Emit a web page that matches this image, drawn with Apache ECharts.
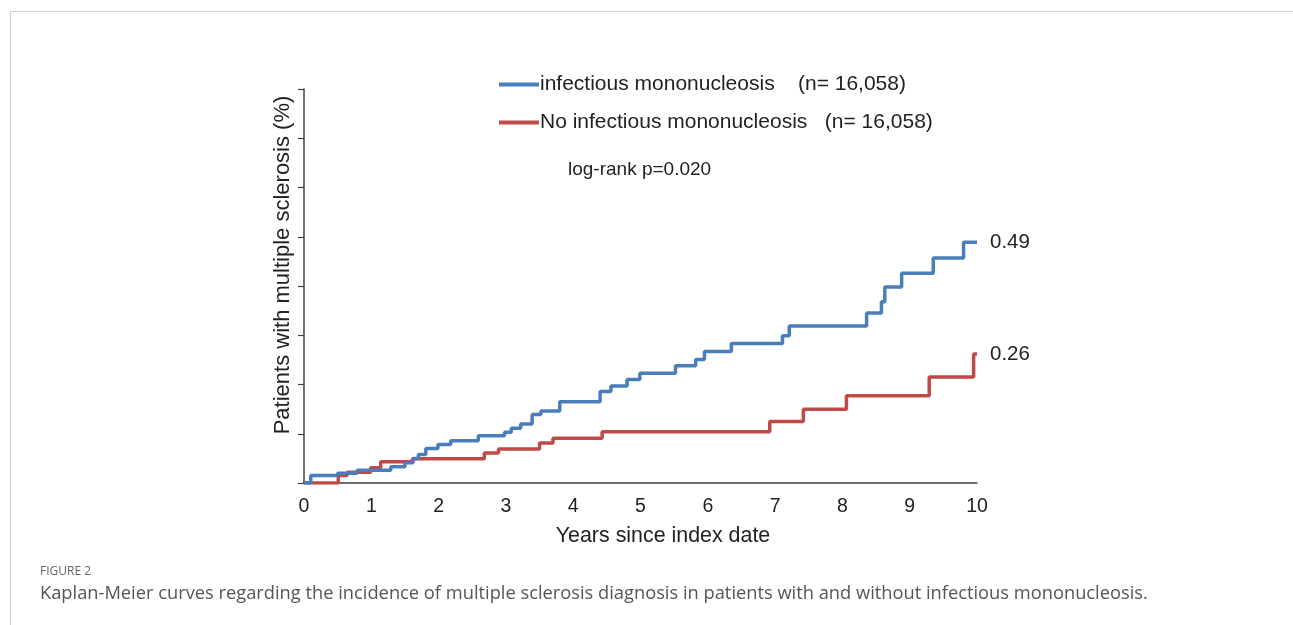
<!DOCTYPE html>
<html>
<head>
<meta charset="utf-8">
<script src="https://cdn.jsdelivr.net/npm/echarts@6/dist/echarts.min.js"></script>
<style>
html,body{margin:0;padding:0;background:#fff;}
#chart{width:1293px;height:625px;}
</style>
</head>
<body>
<div id="chart"></div>
<script>
// ---- data ----
var xTickLabels = ['0','1','2','3','4','5','6','7','8','9','10'];
var imTimes  = [0, 0.10, 0.50, 0.79, 1.29, 1.50, 1.62, 1.70, 1.81, 1.99, 2.18, 2.59, 2.98, 3.08, 3.22, 3.39, 3.52, 3.80, 4.40, 4.56, 4.80, 4.99, 5.52, 5.82, 5.95, 6.35, 7.11, 7.21, 8.36, 8.58, 8.63, 8.88, 9.35, 9.80, 10.0];
var imValues = [0, 0.015, 0.020, 0.026, 0.033, 0.041, 0.050, 0.058, 0.070, 0.078, 0.086, 0.096, 0.103, 0.111, 0.120, 0.139, 0.146, 0.165, 0.186, 0.197, 0.210, 0.223, 0.238, 0.251, 0.267, 0.283, 0.299, 0.319, 0.345, 0.368, 0.398, 0.426, 0.457, 0.489, 0.489];
var noTimes  = [0, 0.51, 0.64, 0.99, 1.14, 1.61, 2.68, 2.89, 3.50, 3.70, 4.43, 6.92, 7.42, 8.06, 9.29, 9.95, 10.0];
var noValues = [0, 0.015, 0.022, 0.031, 0.043, 0.049, 0.061, 0.069, 0.081, 0.091, 0.104, 0.125, 0.150, 0.177, 0.215, 0.262, 0.262];
var seriesNames = ['infectious mononucleosis', 'No infectious mononucleosis'];
var nLabels = ['(n= 16,058)', '(n= 16,058)'];
var pText = 'log-rank p=0.020';
var yTitle = 'Patients with multiple sclerosis (%)';
var xTitle = 'Years since index date';
var figLabel = 'FIGURE 2';
var caption = 'Kaplan-Meier curves regarding the incidence of multiple sclerosis diagnosis in patients with and without infectious mononucleosis.';

function pairs(t, v){ return t.map(function(x,i){ return [x, v[i]]; }); }

var FONT = 'Liberation Sans, Arial, sans-serif';
var BLUE = '#4a7ebb', RED = '#be4b48';
var chart = echarts.init(document.getElementById('chart'), null, {renderer:'canvas'});
var option = {
  backgroundColor: '#fff',
  animation: false,
  grid: {left: 304, right: 316, top: 89, bottom: 142, containLabel: false},
  legend: {
    orient: 'vertical', left: 494, top: 69,
    itemWidth: 40, itemHeight: 4, itemGap: 17,
    textStyle: {fontFamily: FONT, fontSize: 21, color: '#222', padding: [0,0,0,-4]},
    formatter: function(name){ var i = seriesNames.indexOf(name); return name + (i === 0 ? '    ' : '   ') + nLabels[i]; },
    data: [
      {name: seriesNames[0], icon: 'rect', itemStyle: {color: BLUE}},
      {name: seriesNames[1], icon: 'rect', itemStyle: {color: RED}}
    ]
  },
  xAxis: {
    type: 'value', min: 0, max: 10, interval: 1,
    axisLine: {show: true, lineStyle: {color: '#404040', width: 1.5}},
    axisTick: {show: false},
    splitLine: {show: false},
    axisLabel: {fontFamily: FONT, fontSize: 19.5, color: '#222', margin: 14,
      formatter: function(v){ return xTickLabels[Math.round(v)]; }}
  },
  yAxis: {
    type: 'value', min: 0, max: 0.8, interval: 0.1,
    axisLine: {show: true, lineStyle: {color: '#404040', width: 1.5}},
    axisTick: {show: true, inside: false, length: 6, lineStyle: {color: '#404040', width: 1.2}},
    splitLine: {show: false},
    axisLabel: {show: false}
  },
  series: [
    {
      name: seriesNames[0], type: 'line', step: 'end', symbol: 'none',
      data: pairs(imTimes, imValues),
      lineStyle: {color: BLUE, width: 3.5},
      itemStyle: {color: BLUE},
      endLabel: {show: true, distance: 13, fontFamily: FONT, fontSize: 20.5, color: '#222',
        formatter: function(p){ return p.value[1].toFixed(2); }},
      z: 3
    },
    {
      name: seriesNames[1], type: 'line', step: 'end', symbol: 'none',
      data: pairs(noTimes, noValues),
      lineStyle: {color: RED, width: 3.5},
      itemStyle: {color: RED},
      endLabel: {show: true, distance: 13, fontFamily: FONT, fontSize: 20.5, color: '#222',
        formatter: function(p){ return p.value[1].toFixed(2); }},
      z: 2
    }
  ],
  graphic: [
    {type: 'rect', silent: true, z: -10, shape: {x: 10.5, y: 11.5, width: 1400, height: 700},
      style: {fill: 'none', stroke: '#cfcfcf', lineWidth: 1}},
    {type: 'text', x: 568, y: 170, style: {text: pText, fontFamily: FONT, fontSize: 19, fill: '#222', verticalAlign: 'middle'}},
    {type: 'text', x: 283, y: 265, rotation: Math.PI/2,
      style: {text: yTitle, fontFamily: FONT, fontSize: 22, fill: '#222', align: 'center', verticalAlign: 'middle'}},
    {type: 'text', x: 663, y: 536,
      style: {text: xTitle, fontFamily: FONT, fontSize: 21.4, fill: '#222', align: 'center', verticalAlign: 'middle'}},
    {type: 'text', x: 40, y: 572,
      style: {text: figLabel, fontFamily: 'Open Sans, sans-serif', fontSize: 12, fill: '#666', verticalAlign: 'middle'}},
    {type: 'text', x: 40, y: 594,
      style: {text: caption, fontFamily: 'Open Sans, sans-serif', fontSize: 18.3, fill: '#555', verticalAlign: 'middle'}}
  ]
};
chart.setOption(option);
</script>
</body>
</html>
